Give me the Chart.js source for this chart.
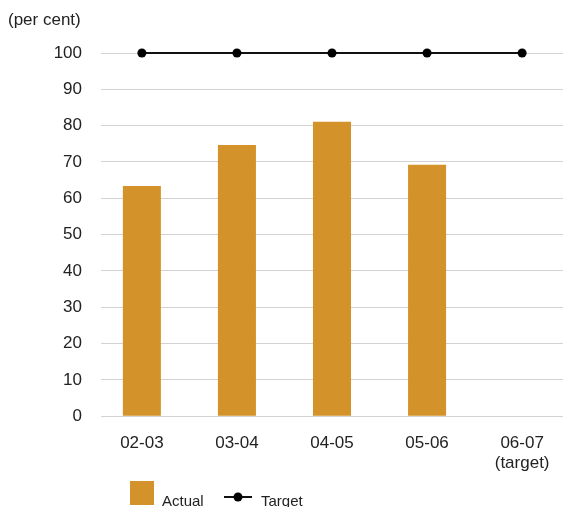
<!DOCTYPE html>
<html>
<head>
<meta charset="utf-8">
<script src="https://cdn.jsdelivr.net/npm/chart.js@4/dist/chart.umd.min.js"></script>
<style>
  html, body { margin: 0; padding: 0; background: #fff; overflow: hidden; }
  #wrap { width: 563px; height: 507px; }
</style>
</head>
<body>
<div id="wrap"><canvas id="chart" width="563" height="507"></canvas></div>
<script>
// Financial years, the last one being the target year
const categories = ['02-03', '03-04', '04-05', '05-06', ['06-07', '(target)']];
// Achieved share (per cent); no result yet for the target year
const actualValues = [63.4, 74.7, 81.1, 69.2, null];
// Target share (per cent) for every year
const targetValues = [100, 100, 100, 100, 100];
// Value axis
const yMin = 0;
const yMax = 100;
const yStep = 10;
const unitLabel = '(per cent)';

const FONT = '"Liberation Sans", Arial, Helvetica, sans-serif';
const TEXT = '#222222';
const BAR_COLOR = '#D3932A';
const LINE_COLOR = '#111111';

// Hand-drawn legend below the axis labels
const bottomLegend = {
  id: 'bottomLegend',
  afterDraw(chart, args, opts) {
    const ctx = chart.ctx;
    const [barSet, lineSet] = chart.data.datasets;
    ctx.save();
    ctx.font = opts.fontSize + 'px ' + FONT;
    ctx.textBaseline = 'alphabetic';
    ctx.textAlign = 'left';

    // bar swatch
    ctx.fillStyle = barSet.backgroundColor;
    ctx.fillRect(opts.barX, opts.swatchTop, opts.swatchSize, opts.swatchSize);
    ctx.fillStyle = TEXT;
    ctx.fillText(barSet.label, opts.barX + opts.swatchSize + 8, opts.baseline);

    // line + point swatch
    ctx.strokeStyle = lineSet.borderColor;
    ctx.lineWidth = lineSet.borderWidth;
    ctx.beginPath();
    ctx.moveTo(opts.lineX, opts.lineY);
    ctx.lineTo(opts.lineX + opts.lineLen, opts.lineY);
    ctx.stroke();
    ctx.fillStyle = lineSet.pointBackgroundColor;
    ctx.beginPath();
    ctx.arc(opts.lineX + opts.lineLen / 2, opts.lineY, lineSet.pointRadius, 0, Math.PI * 2);
    ctx.fill();
    ctx.fillStyle = TEXT;
    ctx.fillText(lineSet.label, opts.lineX + opts.lineLen + 9, opts.baseline);
    ctx.restore();
  }
};

const xPos = (i) => i;

new Chart(document.getElementById('chart'), {
  data: {
    datasets: [
      {
        type: 'bar',
        label: 'Actual',
        data: actualValues.map((v, i) => ({ x: xPos(i), y: v })),
        backgroundColor: BAR_COLOR,
        borderWidth: 0,
        barPercentage: 0.4,
        categoryPercentage: 1.0
      },
      {
        type: 'line',
        label: 'Target',
        data: targetValues.map((v, i) => ({ x: xPos(i), y: v })),
        borderColor: LINE_COLOR,
        borderWidth: 2,
        pointRadius: 4.5,
        pointHoverRadius: 4.5,
        pointBackgroundColor: '#000000',
        pointBorderWidth: 0,
        tension: 0,
        clip: false
      }
    ]
  },
  options: {
    responsive: false,
    animation: false,
    layout: { autoPadding: false, padding: { left: 8, right: 0, top: 0, bottom: 24 } },
    scales: {
      x: {
        type: 'linear',
        min: -0.43,
        max: 4.43,
        offset: false,
        afterFit: (scale) => { scale.paddingLeft = 0; scale.paddingRight = 0; },
        grid: { display: false },
        border: { display: false },
        ticks: {
          stepSize: 1,
          includeBounds: false,
          autoSkip: false,
          maxRotation: 0,
          padding: 9,
          color: TEXT,
          font: { family: FONT, size: 17 },
          callback: (v) => Number.isInteger(v) && categories[v] !== undefined ? categories[v] : ''
        }
      },
      y: {
        min: yMin,
        max: yMax,
        afterFit: (scale) => { scale.width = 93; },
        grid: { color: '#d2d2d2', lineWidth: 1, drawTicks: false },
        border: { display: false },
        ticks: {
          stepSize: yStep,
          padding: 19,
          color: TEXT,
          font: { family: FONT, size: 17 }
        }
      }
    },
    plugins: {
      legend: { display: false },
      tooltip: { enabled: false },
      title: {
        display: true,
        text: unitLabel,
        align: 'start',
        color: TEXT,
        font: { family: FONT, size: 17, weight: 'normal' },
        padding: { top: 10, bottom: 22.6 }
      },
      bottomLegend: {
        fontSize: 15,
        barX: 130,
        swatchTop: 481,
        swatchSize: 24,
        baseline: 506,
        lineX: 224,
        lineY: 497,
        lineLen: 28
      }
    }
  },
  plugins: [bottomLegend]
});
</script>
</body>
</html>
